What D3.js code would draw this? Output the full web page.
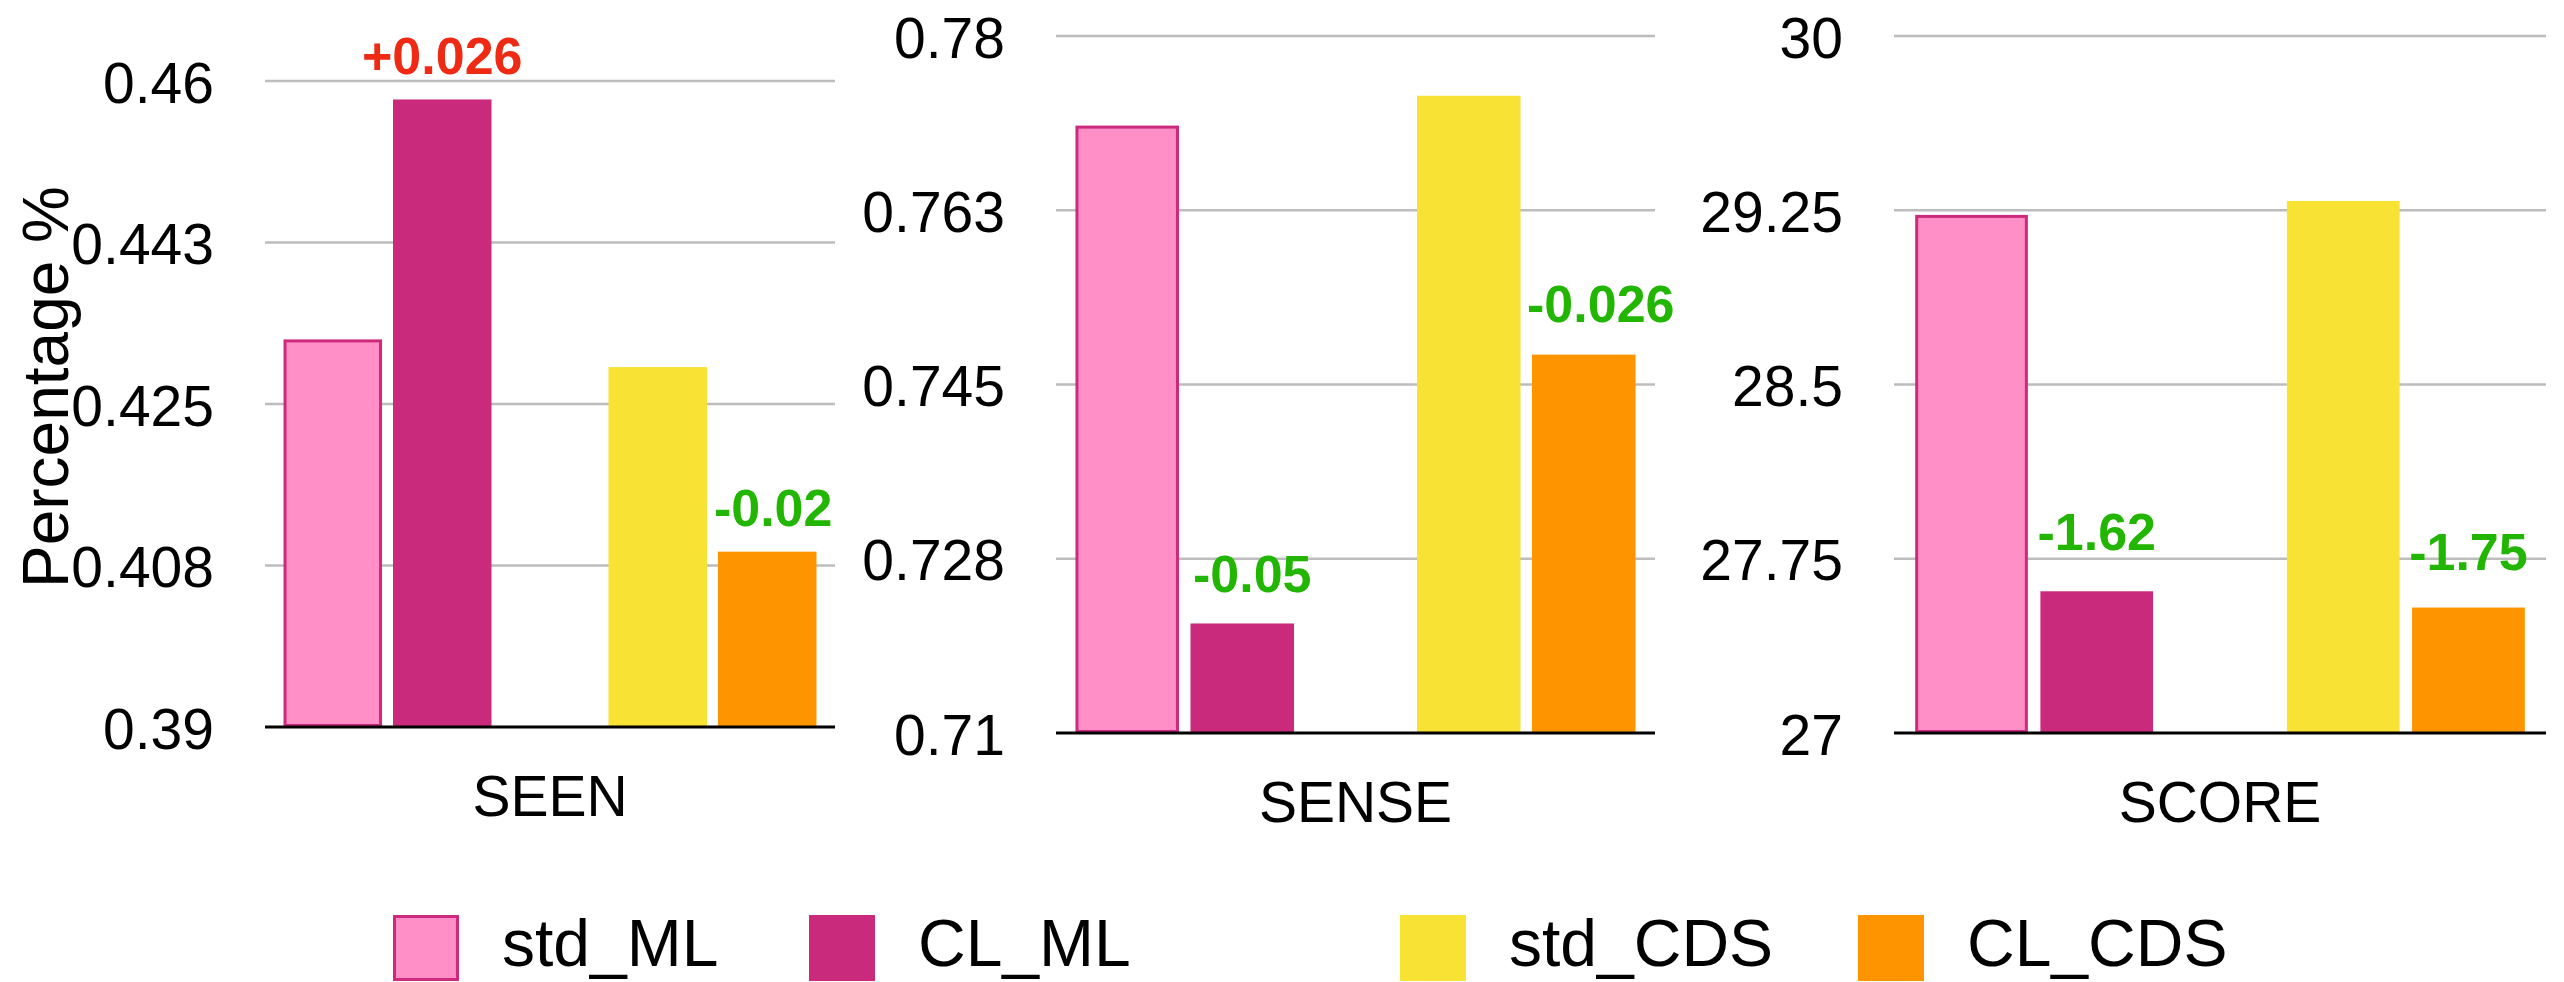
<!DOCTYPE html>
<html>
<head>
<meta charset="utf-8">
<script src="https://cdn.jsdelivr.net/npm/d3@7"></script>
<style>
  html, body { margin: 0; padding: 0; background: #ffffff; }
  svg { display: block; font-family: "Liberation Sans", Arial, Helvetica, sans-serif; }
</style>
</head>
<body>
<svg id="chart" width="2564" height="982"></svg>
<script>
// ---- data ----
const categories = ["SEEN", "SENSE", "SCORE"];
const groups = ["ML", "CDS"];
const seriesNames = ["std_ML", "CL_ML", "std_CDS", "CL_CDS"];

const std_ML  = [0.432, 0.771, 29.23];
const CL_ML   = [0.458, 0.721, 27.61];
const std_CDS = [0.429, 0.774, 29.29];
const CL_CDS  = [0.409, 0.748, 27.54];

const yDomains = [[0.39, 0.46], [0.71, 0.78], [27, 30]];
const tickLabels = [
  ["0.39", "0.408", "0.425", "0.443", "0.46"],
  ["0.71", "0.728", "0.745", "0.763", "0.78"],
  ["27", "27.75", "28.5", "29.25", "30"]
];
const yTitle = "Percentage %";

// ---- styling / layout ----
const colors = {
  std_ML: "#ff8fc6",
  CL_ML: "#ca2a7b",
  std_CDS: "#f8e234",
  CL_CDS: "#fe9400"
};
const stdMLStroke = "#cc2a7c";
const upColor = "#ee2a14";
const downColor = "#22b502";

const panels = [
  { x0: 265,  x1: 835,  top: 81, bottom: 727, gap: [25, 26], dx: [0, 6] },
  { x0: 1056, x1: 1655, top: 36, bottom: 733, gap: [31, 33], dx: [10, 17] },
  { x0: 1894, x1: 2546, top: 36, bottom: 733, gap: [41, 38], dx: [0, 0] }
];
const legendX = [393, 809, 1400, 1858];

const svg = d3.select("#chart");

function fmtDelta(d) {
  const v = Number(d.toFixed(3));
  return (v > 0 ? "+" : "") + String(v);
}

categories.forEach((cat, i) => {
  const p = panels[i];
  const g = svg.append("g");

  const y = d3.scaleLinear().domain(yDomains[i]).range([p.bottom, p.top]);
  const [lo, hi] = yDomains[i];
  const tickVals = tickLabels[i].map((_, k) => lo + k * (hi - lo) / (tickLabels[i].length - 1));

  const xOuter = d3.scaleBand().domain(groups).range([p.x0, p.x1])
    .paddingInner(0.36).paddingOuter(0.057);
  const xInner = d3.scaleBand().domain([0, 1]).range([0, xOuter.bandwidth()])
    .paddingInner(0.1).paddingOuter(0);

  // gridlines (all but the baseline)
  g.selectAll("line.grid").data(tickVals.slice(1)).join("line")
    .attr("class", "grid")
    .attr("x1", p.x0).attr("x2", p.x1)
    .attr("y1", d => y(d)).attr("y2", d => y(d))
    .attr("stroke", "#bdbdbd").attr("stroke-width", 2.4);

  // y tick labels through a d3 axis
  const axis = d3.axisLeft(y).tickValues(tickVals)
    .tickFormat((d, k) => tickLabels[i][k]).tickSize(0).tickPadding(0);
  const ax = g.append("g").attr("transform", `translate(${p.x0 - 51},0)`).call(axis);
  ax.select(".domain").remove();
  ax.selectAll("text")
    .attr("font-size", 57)
    .attr("font-family", "'Liberation Sans', Arial, Helvetica, sans-serif")
    .attr("fill", "#000")
    .attr("dy", null)
    .attr("y", 21);

  // bars
  const rows = [
    { grp: "ML",  std: std_ML[i],  cl: CL_ML[i],  stdKey: "std_ML",  clKey: "CL_ML" },
    { grp: "CDS", std: std_CDS[i], cl: CL_CDS[i], stdKey: "std_CDS", clKey: "CL_CDS" }
  ];

  rows.forEach((r, gi) => {
    const gx = xOuter(r.grp);
    const bw = xInner.bandwidth();
    // standard bar
    const sx = gx + xInner(0);
    if (r.stdKey === "std_ML") {
      g.append("rect")
        .attr("x", sx + 1.5).attr("y", y(r.std) + 1.5)
        .attr("width", bw - 3).attr("height", y(lo) - y(r.std) - 3)
        .attr("fill", colors[r.stdKey])
        .attr("stroke", stdMLStroke).attr("stroke-width", 3);
    } else {
      g.append("rect")
        .attr("x", sx).attr("y", y(r.std))
        .attr("width", bw).attr("height", y(lo) - y(r.std))
        .attr("fill", colors[r.stdKey]);
    }
    // CL bar
    const cx = gx + xInner(1);
    g.append("rect")
      .attr("x", cx).attr("y", y(r.cl))
      .attr("width", bw).attr("height", y(lo) - y(r.cl))
      .attr("fill", colors[r.clKey]);

    // change label
    const delta = r.cl - r.std;
    g.append("text")
      .attr("x", cx + bw / 2 + p.dx[gi])
      .attr("y", y(r.cl) - p.gap[gi])
      .attr("text-anchor", "middle")
      .attr("font-size", 52)
      .attr("font-weight", "bold")
      .attr("fill", delta > 0 ? upColor : downColor)
      .text(fmtDelta(delta));
  });

  // baseline axis
  g.append("line")
    .attr("x1", p.x0).attr("x2", p.x1)
    .attr("y1", y(lo)).attr("y2", y(lo))
    .attr("stroke", "#000").attr("stroke-width", 3);

  // category label
  g.append("text")
    .attr("x", (p.x0 + p.x1) / 2)
    .attr("y", p.bottom + 89)
    .attr("text-anchor", "middle")
    .attr("font-size", 57)
    .attr("fill", "#000")
    .text(cat);
});

// y axis title
svg.append("text")
  .attr("transform", "translate(68,387) rotate(-90)")
  .attr("text-anchor", "middle")
  .attr("font-size", 64)
  .attr("fill", "#000")
  .text(yTitle);

// legend
const legend = svg.append("g");
seriesNames.forEach((name, k) => {
  const lx = legendX[k];
  const item = legend.append("g");
  if (name === "std_ML") {
    item.append("rect")
      .attr("x", lx + 1.5).attr("y", 916.5)
      .attr("width", 63).attr("height", 63)
      .attr("fill", colors[name])
      .attr("stroke", stdMLStroke).attr("stroke-width", 3);
  } else {
    item.append("rect")
      .attr("x", lx).attr("y", 915)
      .attr("width", 66).attr("height", 66)
      .attr("fill", colors[name]);
  }
  item.append("text")
    .attr("x", lx + 109)
    .attr("y", 966)
    .attr("font-size", 66)
    .attr("fill", "#000")
    .text(name);
});
</script>
</body>
</html>
